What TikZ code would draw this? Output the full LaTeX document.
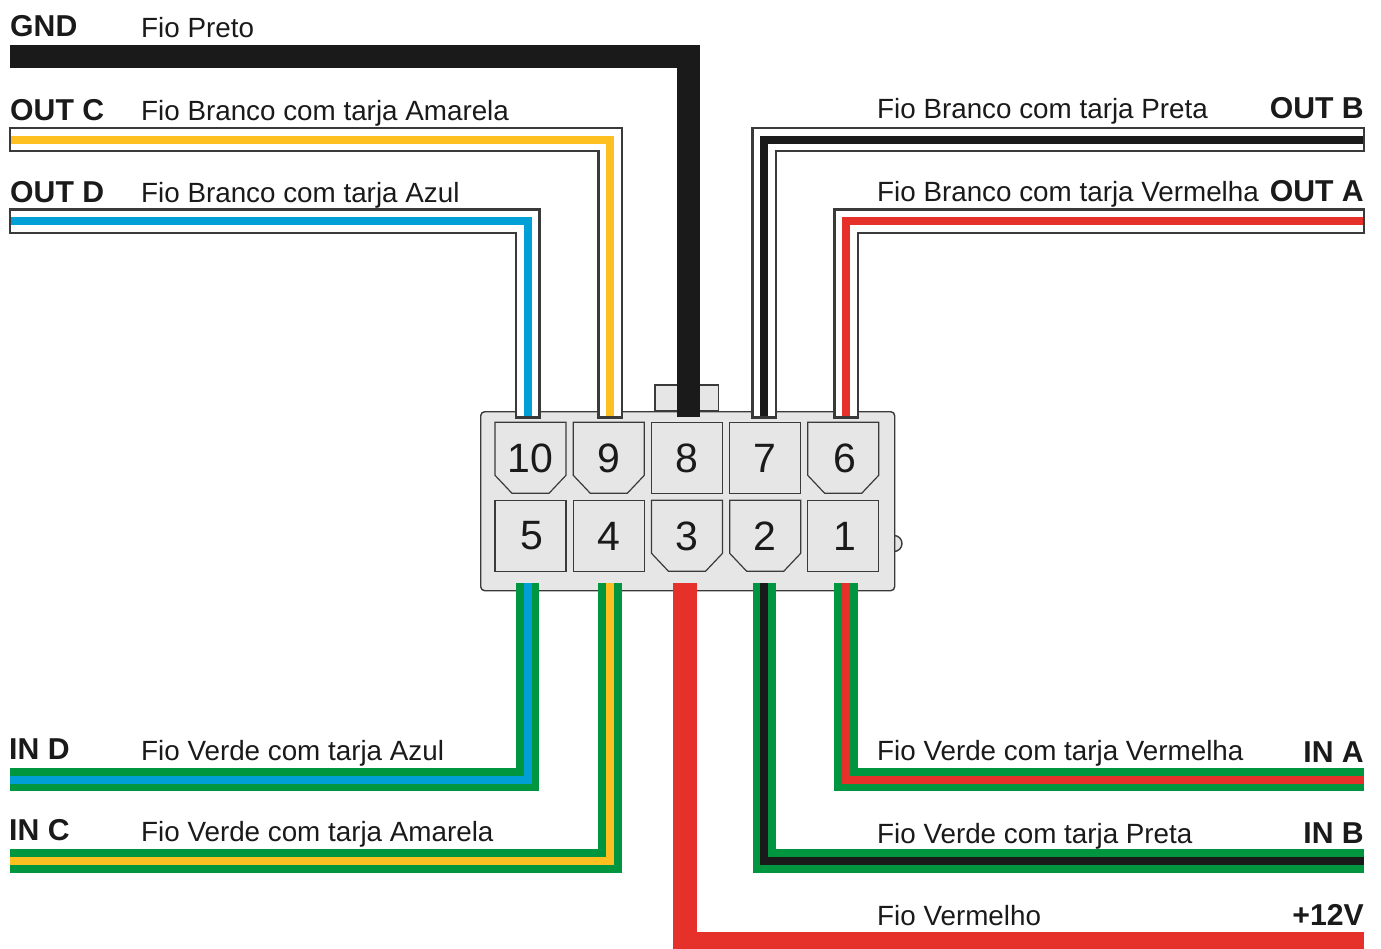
\documentclass[tikz,border=0pt]{standalone}
\usepackage{fontspec}
\setmainfont{Liberation Sans}
\definecolor{inkc}{HTML}{1A1A1A}
\definecolor{edgec}{HTML}{3A3A3A}
\definecolor{bodyc}{HTML}{E6E6E6}
\definecolor{yelc}{HTML}{FDC020}
\definecolor{bluc}{HTML}{009FD6}
\definecolor{redc}{HTML}{E5312A}
\definecolor{grnc}{HTML}{009640}
\newcommand{\whitewire}[4]{% start, path op, end, stripe
  \draw[wirebase,edgec,line width=25.7pt] (#1) #2 (#3);
  \draw[wirebase,white,line width=21pt,shorten <=2.3pt,shorten >=2.3pt] (#1) #2 (#3);
  \draw[wirebase,#4,line width=8pt,shorten <=2.3pt,shorten >=2.3pt] (#1) #2 (#3);}
\newcommand{\greenwire}[4]{%
  \draw[wirebase,grnc,line width=23.5pt] (#1) #2 (#3);
  \draw[wirebase,#4,line width=8pt] (#1) #2 (#3);}
\tikzset{
  wirebase/.style={line join=miter,line cap=butt},
  body/.style={draw=edgec,fill=bodyc,line width=1.4pt},
  cell/.style={draw=edgec,fill=bodyc,line width=1.2pt,line join=miter},
  num/.style={font=\fontsize{41}{42}\selectfont,text=inkc,inner sep=0pt},
  lab/.style={font=\fontsize{27.8}{30}\selectfont,text=inkc,inner sep=0pt,anchor=base west},
  sig/.style={font=\fontsize{30.2}{32}\selectfont\bfseries,text=inkc,inner sep=0pt,anchor=base west},
  sigr/.style={font=\fontsize{30.2}{32}\selectfont\bfseries,text=inkc,inner sep=0pt,anchor=base east}
}
\begin{document}
\begin{tikzpicture}[x=1pt,y=-1pt]
\useasboundingbox (0,0) rectangle (1381,948);
% connector housing
\draw[body] (655,411) rectangle (718.5,385);
\draw[body] (894,551.5) arc[start angle=90,end angle=-90,radius=8];
\node[body,rounded corners=4pt,minimum width=414pt,minimum height=179pt,inner sep=0pt,anchor=north west] (housing) at (480,411) {};
% cells
\newcommand{\sq}[2]{\draw[cell] (#1,#2) rectangle ++(71,71);}
\newcommand{\ch}[2]{\draw[cell] (#1,#2) -- ++(71,0) -- ++(0,53) -- ++(-17,18) -- ++(-37,0) -- ++(-17,-18) -- cycle;}
\ch{495}{422.3}\ch{573.3}{422.3}\sq{651.5}{422.3}\sq{729.7}{422.3}\ch{807.7}{422.3}
\sq{495}{500.3}\sq{573.3}{500.3}\ch{651.5}{500.3}\ch{729.7}{500.3}\sq{807.7}{500.3}
\node[num] (n10) at (530.3,458) {10};
\node[num] (n9) at (608.8,458) {9};
\node[num] (n8) at (687,458) {8};
\node[num] (n7) at (765.2,458) {7};
\node[num] (n6) at (844.5,458) {6};
\node[num] (n5) at (531.5,536) {5};
\node[num] (n4) at (608.8,536) {4};
\node[num] (n3) at (687,536) {3};
\node[num] (n2) at (765.2,536) {2};
\node[num] (n1) at (844.5,536) {1};
% wire ends
\coordinate (gndL) at (10,56.5);   \coordinate (p8) at (688.5,417);
\coordinate (ocL) at (8.7,139.5);  \coordinate (p9) at (610,418.5);
\coordinate (odL) at (8.7,221);    \coordinate (p10) at (527.8,418.5);
\coordinate (obR) at (1365.3,139.5); \coordinate (p7) at (764.3,418.5);
\coordinate (oaR) at (1365.3,221);  \coordinate (p6) at (846,418.5);
\coordinate (idL) at (10,779.5);   \coordinate (p5) at (527.5,583);
\coordinate (icL) at (10,861);     \coordinate (p4) at (609.8,583);
\coordinate (v12R) at (1364,944);  \coordinate (p3) at (685.3,583);
\coordinate (ibR) at (1364,861);   \coordinate (p2) at (764.4,583);
\coordinate (iaR) at (1364,779.5); \coordinate (p1) at (846.2,583);
% wires
\draw[wirebase,inkc,line width=23pt] (gndL) -| (p8);
\whitewire{ocL}{-|}{p9}{yelc}
\whitewire{odL}{-|}{p10}{bluc}
\whitewire{obR}{-|}{p7}{inkc}
\whitewire{oaR}{-|}{p6}{redc}
\greenwire{idL}{-|}{p5}{bluc}
\greenwire{icL}{-|}{p4}{yelc}
\begin{scope}
\clip (0,0) rectangle (1381,948);
\draw[wirebase,redc,line width=23.7pt] (v12R) -| (p3);
\end{scope}
\greenwire{ibR}{-|}{p2}{inkc}
\greenwire{iaR}{-|}{p1}{redc}
% labels
\node[sig] (tGND) at (10,36.5) {GND};
\node[lab] (fGND) at (141,37) {Fio Preto};
\node[sig] (tOC) at (10,120) {OUT C};
\node[lab] (fOC) at (141,120) {Fio Branco com tarja Amarela};
\node[sig] (tOD) at (10,202.5) {OUT D};
\node[lab] (fOD) at (141,202.5) {Fio Branco com tarja Azul};
\node[sigr] (tOB) at (1364,118) {OUT B};
\node[lab] (fOB) at (877,118) {Fio Branco com tarja Preta};
\node[sigr] (tOA) at (1364,201) {OUT A};
\node[lab] (fOA) at (877,201) {Fio Branco com tarja Vermelha};
\node[sig] (tID) at (9,759) {IN D};
\node[lab] (fID) at (141,760) {Fio Verde com tarja Azul};
\node[sig] (tIC) at (9,840.5) {IN C};
\node[lab] (fIC) at (141,841) {Fio Verde com tarja Amarela};
\node[sigr] (tIA) at (1364,762) {IN A};
\node[lab] (fIA) at (877,760) {Fio Verde com tarja Vermelha};
\node[sigr] (tIB) at (1364,843) {IN B};
\node[lab] (fIB) at (877,843) {Fio Verde com tarja Preta};
\node[sigr] (tV) at (1364,925) {+12V};
\node[lab] (fV) at (877,925) {Fio Vermelho};
\end{tikzpicture}
\end{document}
